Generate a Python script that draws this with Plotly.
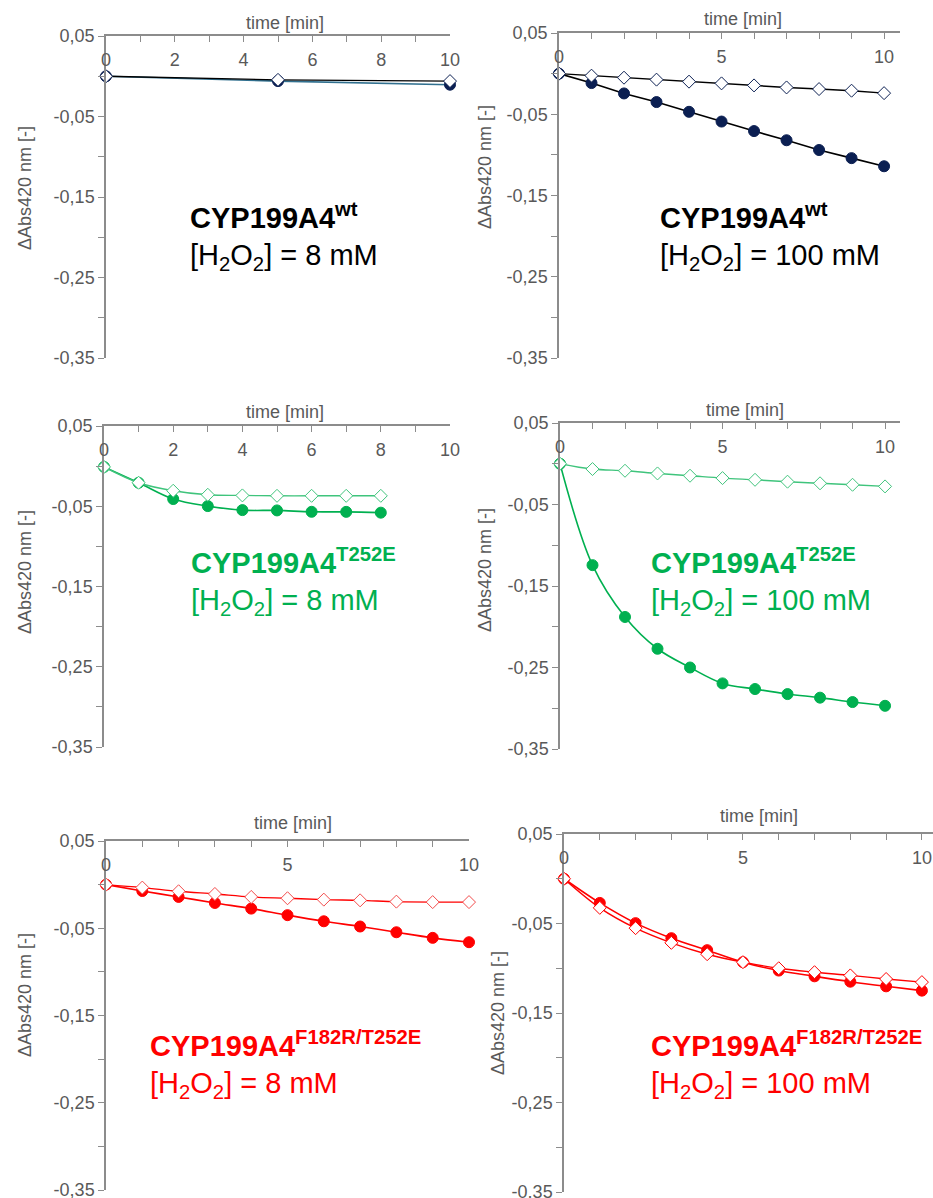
import plotly.graph_objects as go

W, H = 933, 1198

# ---------------- data ----------------
time_p1 = [0, 5, 10]
time_p3 = [0, 1, 2, 3, 4, 5, 6, 7, 8]
time_full = [0, 1, 2, 3, 4, 5, 6, 7, 8, 9, 10]

wt8_filled = [0, -0.006, -0.0105]
wt8_open = [0, -0.0045, -0.006]
wt100_filled = [0, -0.0116, -0.0244, -0.035, -0.047, -0.059, -0.0707, -0.082, -0.094, -0.104, -0.114]
wt100_open = [0, -0.0025, -0.005, -0.0074, -0.0099, -0.012, -0.0145, -0.017, -0.019, -0.021, -0.024]
t252e8_filled = [-0.001, -0.0207, -0.041, -0.0498, -0.0548, -0.0552, -0.0569, -0.057, -0.058]
t252e8_open = [-0.001, -0.0207, -0.0307, -0.0357, -0.0365, -0.037, -0.037, -0.037, -0.037]
t252e100_filled = [0, -0.1244, -0.188, -0.227, -0.250, -0.2695, -0.2764, -0.2826, -0.287, -0.2924, -0.297]
t252e100_open = [0, -0.0065, -0.0086, -0.0119, -0.0147, -0.0176, -0.0197, -0.022, -0.024, -0.0258, -0.0278]
dm8_filled = [0, -0.0073, -0.0141, -0.021, -0.0275, -0.035, -0.042, -0.048, -0.0546, -0.061, -0.066]
dm8_open = [0, -0.0034, -0.0076, -0.0107, -0.0141, -0.0156, -0.0172, -0.018, -0.0195, -0.02, -0.020]
dm100_filled = [0, -0.027, -0.0496, -0.0664, -0.0798, -0.0932, -0.1026, -0.109, -0.115, -0.1202, -0.125]
dm100_open = [0, -0.0325, -0.0552, -0.0716, -0.0843, -0.0932, -0.1, -0.1044, -0.108, -0.112, -0.1155]

y_tickvals = [0.05, -0.05, -0.15, -0.25, -0.35]
y_ticktext = ["0,05", "-0,05", "-0,15", "-0,25", "-0,35"]
x_tickvals_step2 = [0, 2, 4, 6, 8, 10]
x_tickvals_step5 = [0, 5, 10]

# ---------------- styles ----------------
FONT = "Liberation Sans, Arial, sans-serif"
GREY = "#595959"
AXIS = "#8c8c8c"
NAVY = "#0b1f52"
TEAL = "#31708f"
GREEN = "#00b050"
LGREEN = "#3fc47c"
RED = "#ff0000"
LRED = "#f24a4a"

# panel geometry in pixels
panels = [
    dict(xd=(106, 450), xmax=10.0, yd=(36, 358), xt=x_tickvals_step2,
         title=(285, 23), ytitle=(25, 188), lab=(188, 220),
         name="CYP199A4<sup>wt</sup>", conc="8 mM", col="#000000"),
    dict(xd=(559, 900), xmax=10.49, yd=(33, 358), xt=x_tickvals_step5,
         title=(743, 19), ytitle=(485, 167), lab=(658, 220),
         name="CYP199A4<sup>wt</sup>", conc="100 mM", col="#000000"),
    dict(xd=(104, 450), xmax=10.0, yd=(426, 747), xt=x_tickvals_step2,
         title=(285, 412), ytitle=(25, 572), lab=(189, 565),
         name="CYP199A4<sup>T252E</sup>", conc="8 mM", col=GREEN),
    dict(xd=(560, 900), xmax=10.46, yd=(423, 749), xt=x_tickvals_step5,
         title=(745, 410), ytitle=(485, 570), lab=(649, 565),
         name="CYP199A4<sup>T252E</sup>", conc="100 mM", col=GREEN),
    dict(xd=(106, 469), xmax=10.0, yd=(841, 1190), xt=x_tickvals_step5,
         title=(293, 823), ytitle=(25, 995), lab=(148, 1048),
         name="CYP199A4<sup>F182R/T252E</sup>", conc="8 mM", col=RED),
    dict(xd=(564, 933), xmax=10.31, yd=(834, 1192), xt=x_tickvals_step5,
         title=(759, 816), ytitle=(498, 1013), lab=(649, 1048),
         name="CYP199A4<sup>F182R/T252E</sup>", conc="100 mM", col=RED),
]

# (x, filled y, open y, filled marker colour, filled line colour, open line colour, open outline colour)
series = [
    (time_p1, wt8_filled, wt8_open, NAVY, TEAL, "#000000", NAVY),
    (time_full, wt100_filled, wt100_open, NAVY, "#000000", "#000000", NAVY),
    (time_p3, t252e8_filled, t252e8_open, GREEN, GREEN, LGREEN, LGREEN),
    (time_full, t252e100_filled, t252e100_open, GREEN, GREEN, LGREEN, LGREEN),
    (time_full, dm8_filled, dm8_open, RED, RED, RED, LRED),
    (time_full, dm100_filled, dm100_open, RED, RED, RED, RED),
]

fig = go.Figure()
annotations = []
layout = {}

for i, (p, s) in enumerate(zip(panels, series), start=1):
    xa = "x" if i == 1 else f"x{i}"
    ya = "y" if i == 1 else f"y{i}"
    t, yf, yo, fcol, flcol, olcol, ocol = s
    shape = "linear" if i in (1, 2) else "spline"
    fig.add_trace(go.Scatter(
        x=t, y=yf, xaxis=xa, yaxis=ya, mode="lines+markers",
        line=dict(color=flcol, width=1.6, shape=shape),
        marker=dict(symbol="circle", size=11, color=fcol, line=dict(color=fcol, width=1)),
        showlegend=False, cliponaxis=False))
    fig.add_trace(go.Scatter(
        x=t, y=yo, xaxis=xa, yaxis=ya, mode="lines+markers",
        line=dict(color=olcol, width=1.4, shape=shape),
        marker=dict(symbol="diamond", size=10, color="white", line=dict(color=ocol, width=1)),
        showlegend=False, cliponaxis=False))

    x0, x1 = p["xd"]
    yt, yb = p["yd"]
    layout["xaxis" if i == 1 else f"xaxis{i}"] = dict(
        domain=[x0 / W, x1 / W], range=[0, p["xmax"]], anchor=ya, side="top",
        automargin=False,
        showline=True, linecolor=AXIS, linewidth=1.5, showgrid=False, zeroline=False,
        ticks="inside", ticklen=6, tickwidth=1.3, tickcolor=AXIS,
        tickvals=p["xt"], ticklabelposition="outside", ticklabelstandoff=-39,
        ticklabeloverflow="allow",
        minor=dict(dtick=1, tick0=0, ticks="inside", ticklen=6, tickwidth=1.3, tickcolor=AXIS),
        tickfont=dict(family=FONT, size=18, color=GREY))
    layout["yaxis" if i == 1 else f"yaxis{i}"] = dict(
        domain=[1 - yb / H, 1 - yt / H], range=[-0.35, 0.05], anchor=xa,
        automargin=False,
        showline=True, linecolor=AXIS, linewidth=1.5, showgrid=False, zeroline=False,
        ticks="outside", ticklen=6, tickwidth=1.3, tickcolor=AXIS,
        tickvals=y_tickvals, ticktext=y_ticktext, ticklabeloverflow="allow",
        minor=dict(dtick=0.05, tick0=0.05, ticks="outside", ticklen=6, tickwidth=1.3, tickcolor=AXIS),
        tickfont=dict(family=FONT, size=18, color=GREY))

    annotations.append(dict(
        text="time [min]", x=p["title"][0] / W, y=1 - p["title"][1] / H,
        xref="paper", yref="paper", xanchor="center", yanchor="middle", showarrow=False,
        font=dict(family=FONT, size=18, color=GREY)))
    annotations.append(dict(
        text="ΔAbs420 nm [-]", x=p["ytitle"][0] / W, y=1 - p["ytitle"][1] / H,
        xref="paper", yref="paper", xanchor="center", yanchor="middle", showarrow=False,
        textangle=-90, font=dict(family=FONT, size=18, color=GREY)))
    annotations.append(dict(
        text="<b>" + p["name"] + "</b>", x=p["lab"][0] / W, y=1 - (p["lab"][1] - 4) / H,
        xref="paper", yref="paper", xanchor="left", yanchor="middle", showarrow=False,
        font=dict(family=FONT, size=29, color=p["col"])))
    annotations.append(dict(
        text="[H<sub>2</sub>O<sub>2</sub>] = " + p["conc"], x=p["lab"][0] / W,
        y=1 - (p["lab"][1] + 37) / H,
        xref="paper", yref="paper", xanchor="left", yanchor="middle", showarrow=False,
        font=dict(family=FONT, size=29, color=p["col"])))

fig.update_layout(
    width=W, height=H, margin=dict(l=0, r=0, t=0, b=0, autoexpand=False),
    paper_bgcolor="white", plot_bgcolor="white",
    annotations=annotations, **layout)

fig.write_html("out.html")
